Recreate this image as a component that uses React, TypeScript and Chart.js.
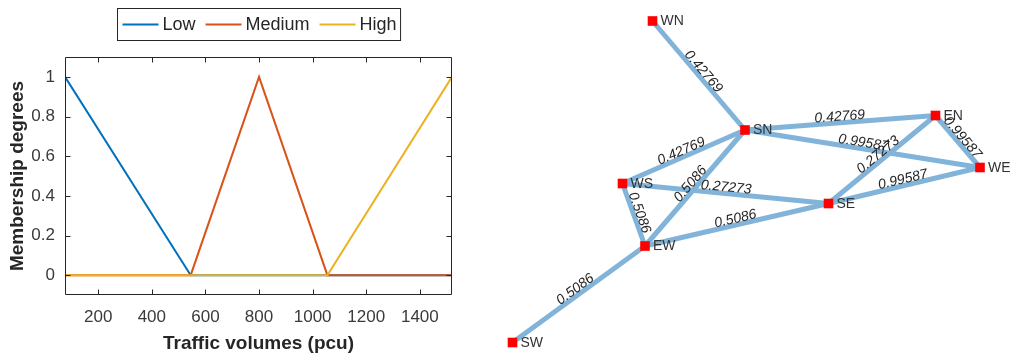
import React, { useEffect, useRef } from "react";
import { Chart, registerables } from "chart.js";

Chart.register(...registerables);

// ---------- Left chart data (membership functions) ----------
const seriesNames = ["Low", "Medium", "High"];
const seriesColors = ["#0072BD", "#D95319", "#EDB120"];
const lowX = [76, 545, 1520];
const lowY = [1, 0, 0];
const mediumX = [76, 545, 800, 1055, 1520];
const mediumY = [0, 0, 1, 0, 0];
const highX = [76, 1055, 1520];
const highY = [0, 0, 1];
const xTicks = [200, 400, 600, 800, 1000, 1200, 1400];
const yTicks = [0, 0.2, 0.4, 0.6, 0.8, 1];
const xRange = [76, 1520];
const yRange = [-0.1, 1.1];
const xTitle = "Traffic volumes (pcu)";
const yTitle = "Membership degrees";

// ---------- Right chart data (network graph) ----------
const nodeNames = ["WN", "SN", "EN", "WE", "WS", "EW", "SE", "SW"];
const nodeX = [3.45, 5.3, 9.11, 10.0, 2.85, 3.3, 6.97, 0.65];
const nodeY = [6.68, 4.5, 4.79, 3.75, 3.43, 2.18, 3.03, 0.25];
const edgeFrom = ["WN", "SN", "SN", "SN", "SN", "WS", "WS", "EN", "EN", "WE", "EW", "EW"];
const edgeTo = ["SN", "EN", "WE", "WS", "EW", "SE", "EW", "WE", "SE", "SE", "SE", "SW"];
const edgeWeights = [0.42769, 0.42769, 0.99587, 0.42769, 0.5086, 0.27273, 0.5086, 0.99587, 0.27273, 0.99587, 0.5086, 0.5086];
const graphXRange = [0, 10.8];
const graphYRange = [0, 7.1];

const FONT = "'Liberation Sans', Arial, Helvetica, sans-serif";

function toPoints(xs: number[], ys: number[]) {
  return xs.map((x, i) => ({ x, y: ys[i] }));
}

const framePlugin = {
  id: "frame",
  afterDraw(chart: any) {
    const { ctx, chartArea } = chart;
    const { left, right, top, bottom } = chartArea;
    const xs = chart.scales.x;
    const ys = chart.scales.y;
    ctx.save();
    ctx.strokeStyle = "#262626";
    ctx.lineWidth = 1;
    ctx.beginPath();
    const L = Math.round(left) + 0.5, R = Math.round(right) - 0.5;
    const T = Math.round(top) + 0.5, B = Math.round(bottom) - 0.5;
    ctx.rect(L, T, R - L, B - T);
    const tl = 5;
    xTicks.forEach((v) => {
      const px = Math.round(xs.getPixelForValue(v)) + 0.5;
      ctx.moveTo(px, B); ctx.lineTo(px, B - tl);
      ctx.moveTo(px, T); ctx.lineTo(px, T + tl);
    });
    yTicks.forEach((v) => {
      const py = Math.round(ys.getPixelForValue(v)) + 0.5;
      ctx.moveTo(L, py); ctx.lineTo(L + tl, py);
      ctx.moveTo(R, py); ctx.lineTo(R - tl, py);
    });
    ctx.stroke();

    // legend box
    ctx.font = `18px ${FONT}`;
    const padL = 5, padR = 4, lineLen = 36, gapText = 4, gapItem = 10;
    const ds = chart.data.datasets;
    const widths = ds.map((d: any) => ctx.measureText(d.label).width);
    let total = padL + padR;
    widths.forEach((w: number, i: number) => {
      total += lineLen + gapText + w + (i < widths.length - 1 ? gapItem : 0);
    });
    const cx = (left + right) / 2;
    const boxL = Math.round(cx - total / 2) + 0.5;
    const boxT = 8.5, boxH = 32;
    ctx.fillStyle = "#ffffff";
    ctx.fillRect(boxL, boxT, total, boxH);
    ctx.strokeStyle = "#262626";
    ctx.strokeRect(boxL, boxT, total, boxH);
    const cy = boxT + boxH / 2;
    let x = boxL + padL;
    ds.forEach((d: any, i: number) => {
      ctx.strokeStyle = d.borderColor;
      ctx.lineWidth = 2;
      ctx.beginPath();
      ctx.moveTo(x, cy);
      ctx.lineTo(x + lineLen, cy);
      ctx.stroke();
      x += lineLen + gapText;
      ctx.fillStyle = "#262626";
      ctx.textBaseline = "middle";
      ctx.textAlign = "left";
      ctx.fillText(d.label, x, cy + 1);
      x += widths[i] + gapItem;
    });
    ctx.restore();
  },
};

const graphLabelPlugin = {
  id: "graphLabels",
  afterDatasetsDraw(chart: any) {
    const { ctx } = chart;
    const xs = chart.scales.x;
    const ys = chart.scales.y;
    const px = (name: string) => {
      const i = nodeNames.indexOf(name);
      return { x: xs.getPixelForValue(nodeX[i]), y: ys.getPixelForValue(nodeY[i]) };
    };
    ctx.save();
    ctx.font = `italic 14px ${FONT}`;
    ctx.fillStyle = "#262626";
    ctx.textAlign = "center";
    ctx.textBaseline = "middle";
    edgeWeights.forEach((w, i) => {
      let a = px(edgeFrom[i]);
      let b = px(edgeTo[i]);
      if (b.x < a.x) { const t = a; a = b; b = t; }
      const mx = (a.x + b.x) / 2, my = (a.y + b.y) / 2;
      const ang = Math.atan2(b.y - a.y, b.x - a.x);
      ctx.save();
      ctx.translate(mx, my);
      ctx.rotate(ang);
      ctx.fillText(String(w), 0, -6);
      ctx.restore();
    });
    ctx.font = `14px ${FONT}`;
    ctx.fillStyle = "#333333";
    ctx.textAlign = "left";
    nodeNames.forEach((n) => {
      const p = px(n);
      ctx.fillText(n, p.x + 8, p.y + 0.5);
    });
    ctx.restore();
  },
};

export default function App() {
  const leftRef = useRef<HTMLCanvasElement>(null);
  const rightRef = useRef<HTMLCanvasElement>(null);

  useEffect(() => {
    const seriesX = [lowX, mediumX, highX];
    const seriesY = [lowY, mediumY, highY];
    const left = new Chart(leftRef.current as HTMLCanvasElement, {
      type: "line",
      data: {
        datasets: seriesNames.map((name, i) => ({
          label: name,
          data: toPoints(seriesX[i], seriesY[i]),
          borderColor: seriesColors[i],
          backgroundColor: seriesColors[i],
          borderWidth: 2,
          pointRadius: 0,
          tension: 0,
          order: seriesNames.length - i,
        })),
      },
      options: {
        animation: false,
        responsive: false,
        layout: { autoPadding: false, padding: { top: 57, right: 18, left: 0, bottom: 0 } },
        plugins: { legend: { display: false }, tooltip: { enabled: false } },
        scales: {
          x: {
            type: "linear",
            min: xRange[0],
            max: xRange[1],
            afterBuildTicks: (s: any) => { s.ticks = xTicks.map((v) => ({ value: v })); },
            afterFit: (s: any) => { s.height = 60; },
            grid: { display: false, drawTicks: false },
            border: { display: false },
            ticks: {
              font: { family: FONT, size: 17 },
              color: "#3a3a3a",
              padding: 12,
              maxRotation: 0,
              autoSkip: false,
              callback: (v: any) => String(v),
            },
            title: {
              display: true,
              text: xTitle,
              font: { family: FONT, size: 19, weight: "bold" },
              color: "#262626",
              padding: { top: 3, bottom: 0 },
            },
          },
          y: {
            type: "linear",
            min: yRange[0],
            max: yRange[1],
            afterBuildTicks: (s: any) => { s.ticks = yTicks.map((v) => ({ value: v })); },
            afterFit: (s: any) => { s.width = 65; },
            grid: { display: false, drawTicks: false },
            border: { display: false },
            ticks: {
              font: { family: FONT, size: 17 },
              color: "#3a3a3a",
              padding: 10,
              autoSkip: false,
              callback: (v: any) => String(v),
            },
            title: {
              display: true,
              text: yTitle,
              font: { family: FONT, size: 19, weight: "bold" },
              color: "#262626",
              padding: { top: 6, bottom: 0 },
            },
          },
        },
      } as any,
      plugins: [framePlugin],
    });

    const nodePoints = toPoints(nodeX, nodeY);
    const idx = (n: string) => nodeNames.indexOf(n);
    const edgeDatasets = edgeFrom.map((f, i) => ({
      type: "scatter" as const,
      label: `${f}-${edgeTo[i]}`,
      data: [nodePoints[idx(f)], nodePoints[idx(edgeTo[i])]],
      showLine: true,
      borderColor: "#82B4DA",
      borderWidth: 5,
      pointRadius: 0,
      borderCapStyle: "round",
      order: 1,
      clip: false,
    }));
    const right = new Chart(rightRef.current as HTMLCanvasElement, {
      type: "scatter",
      data: {
        datasets: [
          {
            label: "nodes",
            data: nodePoints,
            pointStyle: "rect",
            pointRadius: 6.8,
            backgroundColor: "#FF0000",
            borderColor: "#FF0000",
            borderWidth: 0,
            order: 0,
            clip: false,
          },
          ...edgeDatasets,
        ] as any,
      },
      options: {
        animation: false,
        responsive: false,
        layout: { autoPadding: false, padding: 0 },
        plugins: { legend: { display: false }, tooltip: { enabled: false } },
        scales: {
          x: { type: "linear", min: graphXRange[0], max: graphXRange[1], display: false },
          y: { type: "linear", min: graphYRange[0], max: graphYRange[1], display: false },
        },
      } as any,
      plugins: [graphLabelPlugin],
    });

    return () => {
      left.destroy();
      right.destroy();
    };
  }, []);

  return (
    <div style={{ position: "absolute", left: 0, top: 0, width: 1020, height: 355, background: "#ffffff" }}>
      <canvas ref={leftRef} width={470} height={355} style={{ position: "absolute", left: 0, top: 0 }} />
      <canvas ref={rightRef} width={540} height={355} style={{ position: "absolute", left: 480, top: 0 }} />
    </div>
  );
}
